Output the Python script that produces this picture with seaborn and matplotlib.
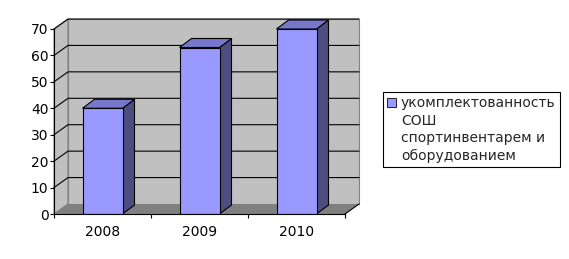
import numpy as np
import pandas as pd
import matplotlib
matplotlib.use("Agg")
import matplotlib.pyplot as plt
import seaborn as sns
from matplotlib.patches import Polygon, Patch

# ---- data ----
years = ["2008", "2009", "2010"]
values = [40, 63, 70]
legend_lines = ["укомплектованность", "СОШ", "спортинвентарем и", "оборудованием"]
y_ticks = [0, 10, 20, 30, 40, 50, 60, 70]

FRONT = "#9999ff"
SIDE = "#4d4d80"
TOP = "#7777cc"
WALL = "#c0c0c0"
FLOOR = "#808080"

sns.set_theme(style="white")
plt.rcParams['font.family'] = ['DejaVu Sans']

W, H = 569, 259
fig = plt.figure(figsize=(W / 100, H / 100), dpi=100)
ax = fig.add_axes([54 / W, 45 / H, 291 / W, 185 / H])
ax.set_facecolor("none")

df = pd.DataFrame({"year": years, "value": values})
sns.barplot(data=df, x="year", y="value", color=FRONT, saturation=1,
            width=40 / 97, edgecolor="black", linewidth=0.8, ax=ax, zorder=3)

ax.set_xlim(-0.5, 2.5)
ax.set_ylim(0, 70)

# pixel -> data conversions
sx = 3 / 291
sy = 70 / 185
WDX, WDY = 14 * sx, 10 * sy   # wall depth
BDX, BDY = 12 * sx, 9 * sy    # bar depth

x0, x1 = -0.5, 2.5
y0, y1 = 0, 70
# back wall
ax.add_patch(Polygon([(x0 + WDX, y0 + WDY), (x1 + WDX, y0 + WDY), (x1 + WDX, y1 + WDY), (x0 + WDX, y1 + WDY)],
                     closed=True, facecolor=WALL, edgecolor=FLOOR, lw=0.8, zorder=0, clip_on=False))
# left wall
ax.add_patch(Polygon([(x0, y0), (x0 + WDX, y0 + WDY), (x0 + WDX, y1 + WDY), (x0, y1)],
                     closed=True, facecolor=WALL, edgecolor=FLOOR, lw=0.8, zorder=0, clip_on=False))
# floor
ax.add_patch(Polygon([(x0, y0), (x1, y0), (x1 + WDX, y0 + WDY), (x0 + WDX, y0 + WDY)],
                     closed=True, facecolor=FLOOR, edgecolor="none", lw=0, zorder=0.5, clip_on=False))
ax.plot([x1, x1 + WDX], [y0, y0 + WDY], color="black", lw=0.8, zorder=1, clip_on=False)

# gridlines
for t in y_ticks[1:]:
    ax.plot([x0, x0 + WDX, x1 + WDX], [t, t + WDY, t + WDY], color="black", lw=0.8,
            zorder=0.8, clip_on=False)

# 3D bar sides/tops derived from seaborn bars
for p in list(ax.patches):
    if not hasattr(p, "get_width") or p.get_zorder() != 3:
        continue
    bx, bw, bh = p.get_x(), p.get_width(), p.get_height()
    ax.add_patch(Polygon([(bx + bw, 0), (bx + bw + BDX, BDY), (bx + bw + BDX, bh + BDY), (bx + bw, bh)],
                         closed=True, facecolor=SIDE, edgecolor="black", lw=0.8, zorder=2.9, clip_on=False))
    ax.add_patch(Polygon([(bx, bh), (bx + bw, bh), (bx + bw + BDX, bh + BDY), (bx + BDX, bh + BDY)],
                         closed=True, facecolor=TOP, edgecolor="black", lw=0.8, zorder=2.9, clip_on=False))

for s in ["top", "right"]:
    ax.spines[s].set_visible(False)
for s in ["left", "bottom"]:
    ax.spines[s].set_color("black")
    ax.spines[s].set_linewidth(0.8)
    ax.spines[s].set_zorder(4)

ax.set_yticks(y_ticks)
ax.set_xticks([0, 1, 2])
ax.set_xticks([-0.5, 0.5, 1.5, 2.5], minor=True)
ax.tick_params(axis="y", which="major", left=True, length=3, width=0.8, color="black",
               pad=1, labelsize=10, labelcolor="black")
ax.tick_params(axis="x", which="major", bottom=True, length=0, pad=8, labelsize=10, labelcolor="black")
ax.tick_params(axis="x", which="minor", bottom=True, length=3, width=0.8, color="black")
ax.set_xlabel("")
ax.set_ylabel("")

handles = [Patch(facecolor=FRONT, edgecolor="black", lw=0.6)] + \
          [Patch(facecolor="none", edgecolor="none") for _ in legend_lines[1:]]
leg = fig.legend(handles, legend_lines, loc="upper left", bbox_to_anchor=(383 / W, 1 - 92 / H),
                 frameon=True, fancybox=False, edgecolor="black", framealpha=1,
                 handlelength=0.6, handleheight=0.6, handletextpad=0.4,
                 labelspacing=0.25, borderpad=0.3, borderaxespad=0, fontsize=10)
leg.get_frame().set_linewidth(0.8)

fig.savefig("out.png", dpi=100, facecolor="white")
